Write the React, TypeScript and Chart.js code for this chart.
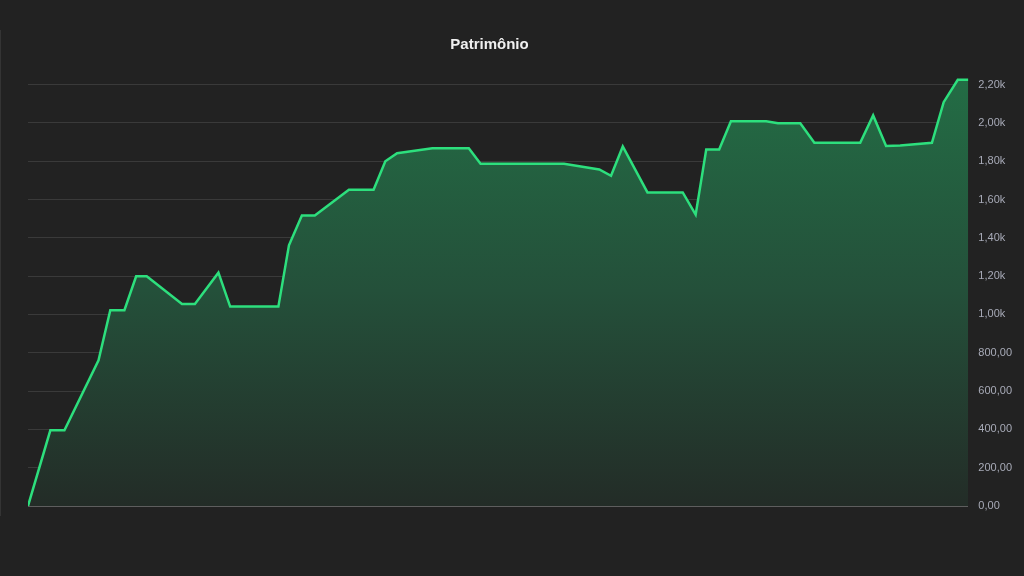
import React, { useEffect, useRef } from "react";
import { Chart, registerables } from "chart.js";

Chart.register(...registerables);

const TITLE = "Patrimônio";
// day offsets of each observation
const dias = [0, 1.9, 3.1, 6.0, 7.0, 8.2, 9.2, 10.1, 13.1, 14.2, 16.2, 17.2, 21.3, 22.2, 23.3, 24.4, 27.3, 29.4, 30.4, 31.4, 34.4, 37.5, 38.5, 45.6, 48.6, 49.6, 50.6, 52.7, 55.7, 56.8, 57.7, 58.8, 59.8, 62.8, 63.8, 65.7, 66.9, 70.8, 71.9, 73.0, 74.2, 76.9, 77.9, 79.1, 80];
const patrimonio = [0, 395, 395, 761, 1022, 1022, 1199, 1199, 1055, 1055, 1218, 1041, 1041, 1361, 1516, 1516, 1651, 1651, 1800, 1842, 1868, 1868, 1787, 1787, 1757, 1724, 1877, 1637, 1637, 1521, 1861, 1861, 2009, 2009, 1998, 1998, 1896, 1896, 2039, 1879, 1882, 1896, 2108, 2225, 2225];
const Y_MAX = 2250;
const Y_STEP = 200;

function fmt(v: number): string {
  if (v >= 1000) return (v / 1000).toFixed(2).replace(".", ",") + "k";
  return v.toFixed(2).replace(".", ",");
}

export default function App() {
  const ref = useRef<HTMLCanvasElement | null>(null);
  useEffect(() => {
    if (!ref.current) return;
    const titlePlugin = {
      id: "customTitle",
      afterDraw(chart: any) {
        const ctx = chart.ctx;
        ctx.save();
        ctx.font = "bold 15px 'Liberation Sans', Arial, sans-serif";
        ctx.fillStyle = "#f0f0f0";
        ctx.textAlign = "center";
        ctx.textBaseline = "middle";
        ctx.fillText(TITLE, 489.5, 45);
        ctx.restore();
      },
    };
    const chart = new Chart(ref.current, {
      type: "line",
      data: {
        datasets: [
          {
            label: TITLE,
            data: dias.map((d, i) => ({ x: d, y: patrimonio[i] })),
            borderColor: "#2ddf7d",
            borderWidth: 2.5,
            pointRadius: 0,
            tension: 0,
            fill: "origin",
            backgroundColor: (c: any) => {
              const area = c.chart.chartArea;
              if (!area) return "rgba(35,107,68,0.8)";
              const g = c.chart.ctx.createLinearGradient(0, area.top, 0, area.bottom);
              g.addColorStop(0, "rgb(35,109,69)");
              g.addColorStop(0.5, "rgb(36,80,58)");
              g.addColorStop(1, "rgb(35,44,39)");
              return g;
            },
          },
        ],
      },
      options: {
        animation: false,
        responsive: false,
        maintainAspectRatio: false,
        layout: { padding: { left: 28, right: 2, top: 75, bottom: 70 } },
        plugins: { legend: { display: false }, title: { display: false }, tooltip: { enabled: false } },
        scales: {
          x: { type: "linear", min: dias[0], max: dias[dias.length - 1], display: false },
          y: {
            position: "right",
            min: 0,
            max: Y_MAX,
            border: { display: false },
            grid: {
              drawTicks: false,
              color: (c: any) => (c.tick && c.tick.value === 0 ? "#5e5e5e" : "#3a3a3a"),
              lineWidth: (c: any) => (c.tick && c.tick.value === 0 ? 2 : 1),
            },
            ticks: {
              stepSize: Y_STEP,
              maxTicksLimit: 30,
              includeBounds: false,
              padding: 10,
              color: "#a8abb8",
              font: { size: 11, family: "'Liberation Sans', Arial, sans-serif" },
              callback: (v: any) => fmt(Number(v)),
            },
          },
        },
      },
      plugins: [titlePlugin],
    });
    return () => chart.destroy();
  }, []);
  return (
    <div style={{ position: "fixed", left: 0, top: 0, width: 1024, height: 576, background: "#222222" }}>
      <div style={{ position: "absolute", left: 0, top: 30, width: 1, height: 486, background: "#343434" }} />
      <canvas ref={ref} width={1024} height={576} style={{ position: "absolute", left: 0, top: 0 }} />
    </div>
  );
}
